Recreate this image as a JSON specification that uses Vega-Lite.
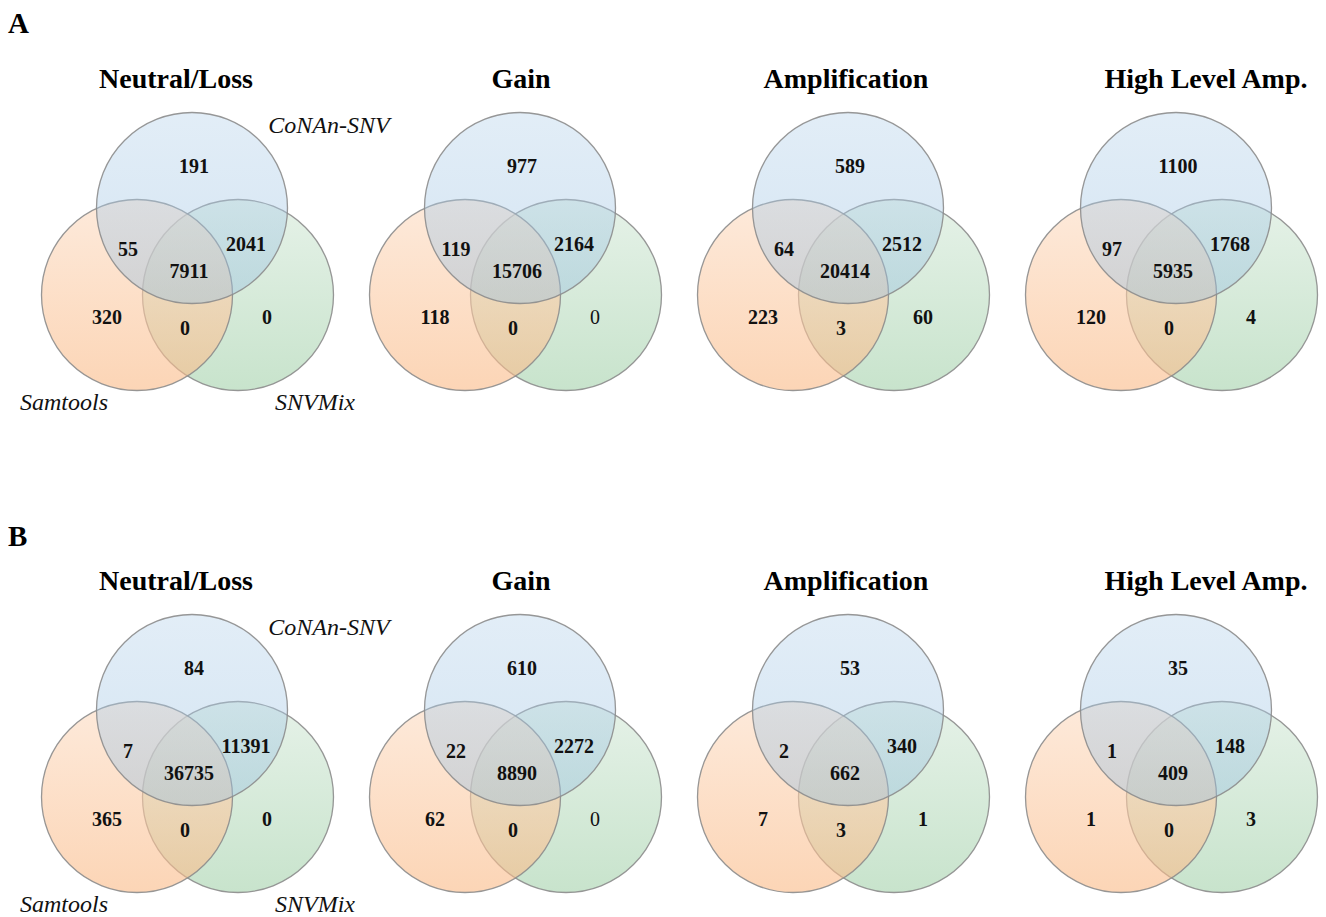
{
  "$schema": "https://vega.github.io/schema/vega-lite/v6.json",
  "background": "white",
  "padding": {"left": 8, "top": 0, "right": 0, "bottom": 0},
  "config": {
    "view": {"stroke": null},
    "axis": {"disable": true},
    "font": "Liberation Serif",
    "text": {"font": "Liberation Serif", "color": "#111111"}
  },
  "data": {
    "values": [
      {"group": "A", "cnv": "Neutral/Loss", "region": "C", "count": 191},
      {"group": "A", "cnv": "Neutral/Loss", "region": "CS", "count": 55},
      {"group": "A", "cnv": "Neutral/Loss", "region": "CSM", "count": 7911},
      {"group": "A", "cnv": "Neutral/Loss", "region": "CM", "count": 2041},
      {"group": "A", "cnv": "Neutral/Loss", "region": "S", "count": 320},
      {"group": "A", "cnv": "Neutral/Loss", "region": "SM", "count": 0},
      {"group": "A", "cnv": "Neutral/Loss", "region": "M", "count": 0},
      {"group": "A", "cnv": "Gain", "region": "C", "count": 977},
      {"group": "A", "cnv": "Gain", "region": "CS", "count": 119},
      {"group": "A", "cnv": "Gain", "region": "CSM", "count": 15706},
      {"group": "A", "cnv": "Gain", "region": "CM", "count": 2164},
      {"group": "A", "cnv": "Gain", "region": "S", "count": 118},
      {"group": "A", "cnv": "Gain", "region": "SM", "count": 0},
      {"group": "A", "cnv": "Gain", "region": "M", "count": 0},
      {"group": "A", "cnv": "Amplification", "region": "C", "count": 589},
      {"group": "A", "cnv": "Amplification", "region": "CS", "count": 64},
      {"group": "A", "cnv": "Amplification", "region": "CSM", "count": 20414},
      {"group": "A", "cnv": "Amplification", "region": "CM", "count": 2512},
      {"group": "A", "cnv": "Amplification", "region": "S", "count": 223},
      {"group": "A", "cnv": "Amplification", "region": "SM", "count": 3},
      {"group": "A", "cnv": "Amplification", "region": "M", "count": 60},
      {"group": "A", "cnv": "High Level Amp.", "region": "C", "count": 1100},
      {"group": "A", "cnv": "High Level Amp.", "region": "CS", "count": 97},
      {"group": "A", "cnv": "High Level Amp.", "region": "CSM", "count": 5935},
      {"group": "A", "cnv": "High Level Amp.", "region": "CM", "count": 1768},
      {"group": "A", "cnv": "High Level Amp.", "region": "S", "count": 120},
      {"group": "A", "cnv": "High Level Amp.", "region": "SM", "count": 0},
      {"group": "A", "cnv": "High Level Amp.", "region": "M", "count": 4},
      {"group": "B", "cnv": "Neutral/Loss", "region": "C", "count": 84},
      {"group": "B", "cnv": "Neutral/Loss", "region": "CS", "count": 7},
      {"group": "B", "cnv": "Neutral/Loss", "region": "CSM", "count": 36735},
      {"group": "B", "cnv": "Neutral/Loss", "region": "CM", "count": 11391},
      {"group": "B", "cnv": "Neutral/Loss", "region": "S", "count": 365},
      {"group": "B", "cnv": "Neutral/Loss", "region": "SM", "count": 0},
      {"group": "B", "cnv": "Neutral/Loss", "region": "M", "count": 0},
      {"group": "B", "cnv": "Gain", "region": "C", "count": 610},
      {"group": "B", "cnv": "Gain", "region": "CS", "count": 22},
      {"group": "B", "cnv": "Gain", "region": "CSM", "count": 8890},
      {"group": "B", "cnv": "Gain", "region": "CM", "count": 2272},
      {"group": "B", "cnv": "Gain", "region": "S", "count": 62},
      {"group": "B", "cnv": "Gain", "region": "SM", "count": 0},
      {"group": "B", "cnv": "Gain", "region": "M", "count": 0},
      {"group": "B", "cnv": "Amplification", "region": "C", "count": 53},
      {"group": "B", "cnv": "Amplification", "region": "CS", "count": 2},
      {"group": "B", "cnv": "Amplification", "region": "CSM", "count": 662},
      {"group": "B", "cnv": "Amplification", "region": "CM", "count": 340},
      {"group": "B", "cnv": "Amplification", "region": "S", "count": 7},
      {"group": "B", "cnv": "Amplification", "region": "SM", "count": 3},
      {"group": "B", "cnv": "Amplification", "region": "M", "count": 1},
      {"group": "B", "cnv": "High Level Amp.", "region": "C", "count": 35},
      {"group": "B", "cnv": "High Level Amp.", "region": "CS", "count": 1},
      {"group": "B", "cnv": "High Level Amp.", "region": "CSM", "count": 409},
      {"group": "B", "cnv": "High Level Amp.", "region": "CM", "count": 148},
      {"group": "B", "cnv": "High Level Amp.", "region": "S", "count": 1},
      {"group": "B", "cnv": "High Level Amp.", "region": "SM", "count": 0},
      {"group": "B", "cnv": "High Level Amp.", "region": "M", "count": 3}
    ]
  },
  "bounds": "flush",
  "spacing": {"row": 87, "column": 28},
  "facet": {
    "row": {"field": "group", "type": "nominal", "header": {"title": null, "labels": false}},
    "column": {
      "field": "cnv", "type": "nominal",
      "sort": ["Neutral/Loss", "Gain", "Amplification", "High Level Amp."],
      "header": {"title": null, "labels": false}
    }
  },
  "spec": {
    "width": 300,
    "height": 415,
    "layer": [
      {
        "transform": [{"filter": "datum.region === 'C'"}],
        "mark": {"type": "point", "shape": "circle", "size": 36481, "filled": true, "opacity": 1, "fillOpacity": 0.6, "stroke": "#8c8c8c", "strokeWidth": 1.3, "strokeOpacity": 0.9,
          "fill": {"gradient": "linear", "x1": 0, "y1": 0, "x2": 0, "y2": 1, "stops": [{"offset": 0, "color": "#d5e9d9"}, {"offset": 1, "color": "#a3d1aa"}]}},
        "encoding": {
          "x": {"datum": 207, "type": "quantitative", "scale": {"domain": [0, 300], "nice": false, "zero": false}, "axis": null},
          "y": {"datum": 295, "type": "quantitative", "scale": {"domain": [0, 415], "nice": false, "zero": false, "reverse": true}, "axis": null}
        }
      },
      {
        "transform": [{"filter": "datum.region === 'C'"}],
        "mark": {"type": "point", "shape": "circle", "size": 36481, "filled": true, "opacity": 1, "fillOpacity": 0.6, "stroke": "#8c8c8c", "strokeWidth": 1.3, "strokeOpacity": 0.9,
          "fill": {"gradient": "linear", "x1": 0, "y1": 0, "x2": 0, "y2": 1, "stops": [{"offset": 0, "color": "#fcdcc3"}, {"offset": 1, "color": "#fab985"}]}},
        "encoding": {"x": {"datum": 106, "type": "quantitative"}, "y": {"datum": 295, "type": "quantitative"}}
      },
      {
        "transform": [{"filter": "datum.region === 'C'"}],
        "mark": {"type": "point", "shape": "circle", "size": 36481, "filled": true, "opacity": 1, "fillOpacity": 0.42, "stroke": "#8c8c8c", "strokeWidth": 1.3, "strokeOpacity": 0.9,
          "fill": {"gradient": "linear", "x1": 0, "y1": 0, "x2": 0, "y2": 1, "stops": [{"offset": 0, "color": "#bad5ec"}, {"offset": 1, "color": "#98c0e1"}]}},
        "encoding": {"x": {"datum": 161, "type": "quantitative"}, "y": {"datum": 208, "type": "quantitative"}}
      },
      {
        "transform": [{"filter": "datum.region === 'C'"}],
        "mark": {"type": "text", "fontSize": 20, "fontWeight": "bold", "baseline": "middle"},
        "encoding": {"x": {"datum": 163, "type": "quantitative"}, "y": {"datum": 167, "type": "quantitative"}, "text": {"field": "count", "type": "quantitative", "format": "d"}}
      },
      {
        "transform": [{"filter": "datum.region === 'CS'"}],
        "mark": {"type": "text", "fontSize": 20, "fontWeight": "bold", "baseline": "middle"},
        "encoding": {"x": {"datum": 97, "type": "quantitative"}, "y": {"datum": 250, "type": "quantitative"}, "text": {"field": "count", "type": "quantitative", "format": "d"}}
      },
      {
        "transform": [{"filter": "datum.region === 'CSM'"}],
        "mark": {"type": "text", "fontSize": 20, "fontWeight": "bold", "baseline": "middle"},
        "encoding": {"x": {"datum": 158, "type": "quantitative"}, "y": {"datum": 272, "type": "quantitative"}, "text": {"field": "count", "type": "quantitative", "format": "d"}}
      },
      {
        "transform": [{"filter": "datum.region === 'CM'"}],
        "mark": {"type": "text", "fontSize": 20, "fontWeight": "bold", "baseline": "middle"},
        "encoding": {"x": {"datum": 215, "type": "quantitative"}, "y": {"datum": 245, "type": "quantitative"}, "text": {"field": "count", "type": "quantitative", "format": "d"}}
      },
      {
        "transform": [{"filter": "datum.region === 'S'"}],
        "mark": {"type": "text", "fontSize": 20, "fontWeight": "bold", "baseline": "middle"},
        "encoding": {"x": {"datum": 76, "type": "quantitative"}, "y": {"datum": 318, "type": "quantitative"}, "text": {"field": "count", "type": "quantitative", "format": "d"}}
      },
      {
        "transform": [{"filter": "datum.region === 'SM'"}],
        "mark": {"type": "text", "fontSize": 20, "fontWeight": "bold", "baseline": "middle"},
        "encoding": {"x": {"datum": 154, "type": "quantitative"}, "y": {"datum": 329, "type": "quantitative"}, "text": {"field": "count", "type": "quantitative", "format": "d"}}
      },
      {
        "transform": [{"filter": "datum.region === 'M' && datum.cnv !== 'Gain'"}],
        "mark": {"type": "text", "fontSize": 20, "fontWeight": "bold", "baseline": "middle"},
        "encoding": {"x": {"datum": 236, "type": "quantitative"}, "y": {"datum": 318, "type": "quantitative"}, "text": {"field": "count", "type": "quantitative", "format": "d"}}
      },
      {
        "transform": [{"filter": "datum.region === 'M' && datum.cnv === 'Gain'"}],
        "mark": {"type": "text", "fontSize": 20, "fontWeight": "normal", "baseline": "middle"},
        "encoding": {"x": {"datum": 236, "type": "quantitative"}, "y": {"datum": 318, "type": "quantitative"}, "text": {"field": "count", "type": "quantitative", "format": "d"}}
      },
      {
        "transform": [{"filter": "datum.region === 'C' && datum.cnv === 'Neutral/Loss'"}],
        "mark": {"type": "text", "fontSize": 24, "fontStyle": "italic", "baseline": "alphabetic", "text": "CoNAn-SNV"},
        "encoding": {"x": {"datum": 298, "type": "quantitative"}, "y": {"datum": 133, "type": "quantitative"}}
      },
      {
        "transform": [{"filter": "datum.region === 'C' && datum.cnv === 'Neutral/Loss'"}],
        "mark": {"type": "text", "fontSize": 24, "fontStyle": "italic", "baseline": "alphabetic", "text": "Samtools"},
        "encoding": {"x": {"datum": 33, "type": "quantitative"}, "y": {"datum": 410, "type": "quantitative"}}
      },
      {
        "transform": [{"filter": "datum.region === 'C' && datum.cnv === 'Neutral/Loss'"}],
        "mark": {"type": "text", "fontSize": 24, "fontStyle": "italic", "baseline": "alphabetic", "text": "SNVMix"},
        "encoding": {"x": {"datum": 284, "type": "quantitative"}, "y": {"datum": 410, "type": "quantitative"}}
      },
      {
        "transform": [{"filter": "datum.region === 'C' && datum.cnv === 'Neutral/Loss'"}],
        "mark": {"type": "text", "fontSize": 28, "fontWeight": "bold", "baseline": "alphabetic", "color": "black"},
        "encoding": {"x": {"datum": 145, "type": "quantitative"}, "y": {"datum": 88, "type": "quantitative"}, "text": {"field": "cnv"}}
      },
      {
        "transform": [{"filter": "datum.region === 'C' && datum.cnv === 'Gain'"}],
        "mark": {"type": "text", "fontSize": 28, "fontWeight": "bold", "baseline": "alphabetic", "color": "black"},
        "encoding": {"x": {"datum": 162, "type": "quantitative"}, "y": {"datum": 88, "type": "quantitative"}, "text": {"field": "cnv"}}
      },
      {
        "transform": [{"filter": "datum.region === 'C' && datum.cnv === 'Amplification'"}],
        "mark": {"type": "text", "fontSize": 28, "fontWeight": "bold", "baseline": "alphabetic", "color": "black"},
        "encoding": {"x": {"datum": 159, "type": "quantitative"}, "y": {"datum": 88, "type": "quantitative"}, "text": {"field": "cnv"}}
      },
      {
        "transform": [{"filter": "datum.region === 'C' && datum.cnv === 'High Level Amp.'"}],
        "mark": {"type": "text", "fontSize": 28, "fontWeight": "bold", "baseline": "alphabetic", "color": "black"},
        "encoding": {"x": {"datum": 191, "type": "quantitative"}, "y": {"datum": 88, "type": "quantitative"}, "text": {"field": "cnv"}}
      },
      {
        "transform": [{"filter": "datum.region === 'C' && datum.cnv === 'Neutral/Loss' && datum.group === 'A'"}],
        "mark": {"type": "text", "fontSize": 29, "fontWeight": "bold", "baseline": "alphabetic", "align": "left", "color": "black"},
        "encoding": {"x": {"datum": -23, "type": "quantitative"}, "y": {"datum": 33, "type": "quantitative"}, "text": {"field": "group"}}
      },
      {
        "transform": [{"filter": "datum.region === 'C' && datum.cnv === 'Neutral/Loss' && datum.group === 'B'"}],
        "mark": {"type": "text", "fontSize": 29, "fontWeight": "bold", "baseline": "alphabetic", "align": "left", "color": "black"},
        "encoding": {"x": {"datum": -23, "type": "quantitative"}, "y": {"datum": 44, "type": "quantitative"}, "text": {"field": "group"}}
      }
    ]
  }
}
